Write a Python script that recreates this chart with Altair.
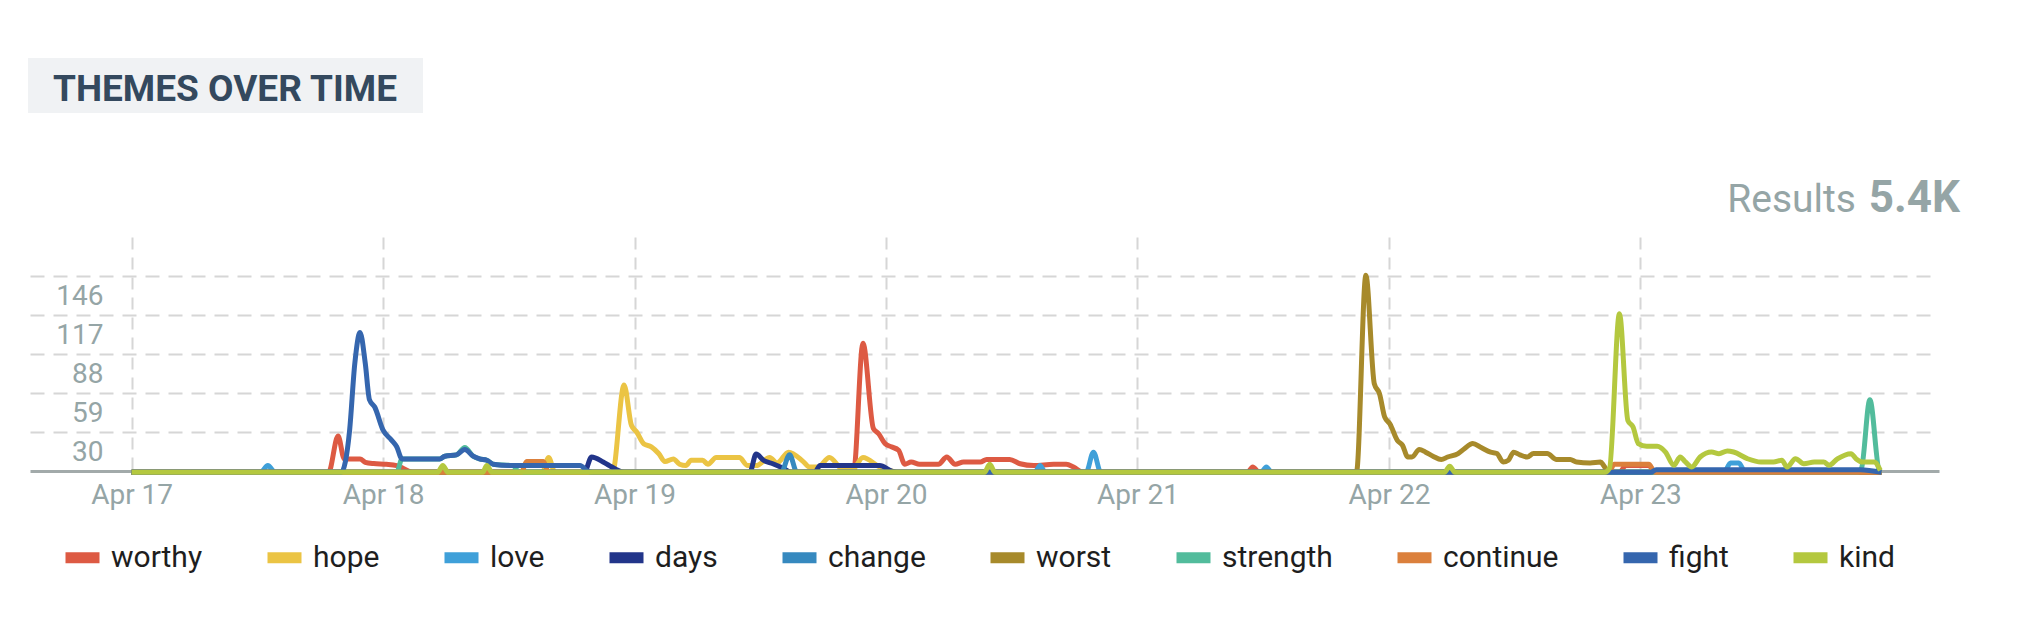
import altair as alt
import pandas as pd

# ---- series names & colours (legend order) ----
series = ["worthy", "hope", "love", "days", "change", "worst",
          "strength", "continue", "fight", "kind"]
colors = ["#dd5a43", "#ebc444", "#3fa0d9", "#22358a", "#3689bf",
          "#a78a2b", "#52bc9c", "#db803c", "#3566ae", "#b4c83f"]

# ---- x positions are hours since Apr 17 00:00 ----
worthy_h = [0, 18.8, 19.7, 20.3, 21.8, 22.3, 23.1, 24.3, 25.3, 25.9, 26.8,
            68.9, 69.8, 70.8, 71.3, 71.9, 72.5, 73.2, 73.8, 74.4, 75.2,
            77.0, 77.8, 78.6, 79.4, 81.0, 81.6, 83.8, 84.8, 86.1, 88.0,
            89.2, 89.9, 90.8, 106.5, 107.0, 107.6, 142.0, 142.6, 144.8, 145.4, 167]
worthy_v = [0, 0, 27, 10, 10, 7.5, 6.5, 6, 5, 3, 0,
            0, 96, 32.5, 28.7, 21.4, 19, 16.4, 6, 7.7, 6,
            6, 11.4, 6, 7.7, 7.7, 9.5, 9.5, 6.4, 5, 6,
            6, 4, 0, 0, 4, 0, 0, 5, 5, 0, 0]

hope_h = [0, 39.2, 39.8, 40.4, 45.9, 47.0, 47.7, 48.2, 48.9, 49.6,
          50.3, 50.9, 51.7, 52.3, 52.9, 53.4, 54.5, 55.0, 55.8, 58.0,
          58.8, 59.6, 60.9, 61.6, 62.7, 64.1, 64.7, 65.5, 66.6, 67.9,
          68.8, 69.8, 71.4, 72.5, 73.2, 167]
hope_v = [0, 0, 11, 0, 0, 65, 35, 30, 21, 19,
          14, 8, 10, 6, 5, 9, 9, 6, 11, 11,
          5, 5, 11, 7, 15, 8, 4, 4, 11, 2,
          2, 11, 4, 1, 0, 0]

love_h = [0, 12.3, 13.0, 13.7, 86.2, 86.7, 87.2, 91.1, 91.8, 92.5,
          107.8, 108.3, 108.8, 152.0, 152.6, 153.4, 154.0, 167]
love_v = [0, 0, 5, 0, 0, 5, 0, 0, 15, 0,
          0, 4, 0, 0, 7, 7, 0, 0]

days_h = [0, 43.2, 43.9, 45.0, 45.6, 46.3, 47.0, 59.0, 59.6, 60.3,
          61.2, 62.2, 63.0, 65.2, 65.7, 67.6, 68.2, 71.4, 72.5, 73.0, 167]
days_v = [0, 0, 11.4, 7.7, 5, 2, 0, 0, 13.6, 9,
          6.4, 3, 0, 0, 5, 5, 5, 5, 1, 0, 0]

change_h = [0, 62.0, 62.8, 63.5, 167]
change_v = [0, 0, 13, 0, 0]

worst_h = [0, 116.9, 117.8, 118.6, 119.1, 119.6, 120.1, 120.8, 121.3, 121.8,
           122.2, 122.9, 123.5, 124.2, 125.0, 125.6, 126.6, 127.2, 128.0, 128.8,
           129.7, 130.3, 130.9, 131.4, 131.9, 132.5, 133.2, 133.8, 135.1, 136.0,
           137.3, 137.9, 139.2, 140.2, 140.5, 141.0, 167]
worst_v = [0, 0, 146.5, 66, 58.5, 41, 36, 23.8, 20, 11.4,
           11.4, 17, 15, 12, 9.5, 11.4, 14, 17.6, 21.4, 18.4,
           15, 14, 7.7, 9, 15, 13, 11.4, 14, 14, 9.5,
           9.5, 7.7, 7, 7.7, 5, 0, 0]

strength_h = [0, 25.3, 25.8, 29.4, 29.9, 31.0, 31.8, 32.6, 33.2, 33.9,
              34.5, 36.4, 37.0, 164.7, 165.1, 165.9, 166.8, 167]
strength_v = [0, 0, 10, 10, 12, 13, 18.5, 12, 10, 9,
              6, 5, 0, 0, 3, 54, 1, 0]

continue_h = [0, 37.2, 37.7, 39.3, 39.8, 141.0, 141.5, 144.8, 145.4, 167]
continue_v = [0, 0, 8, 8, 0, 0, 6, 6, 0, 0]

fight_h = [0, 20.0, 20.8, 21.3, 21.8, 22.3, 22.7, 23.2, 24.0, 24.8,
           25.3, 25.8, 29.4, 29.9, 31.0, 31.8, 32.6, 33.2, 33.9, 34.5,
           36.4, 42.8, 43.5, 44.0, 145.0, 145.5, 165.0, 167]
fight_v = [0, 0, 31, 81, 104, 81, 54, 48.6, 31.4, 24,
           19, 10, 10, 12, 13, 17, 12, 10, 9, 6,
           5, 5, 1, 0, 0, 2, 2, 0]

kind_h = [0, 29.2, 29.7, 30.2, 33.5, 33.9, 34.4, 81.4, 81.9, 82.4,
          125.3, 125.8, 126.3, 140.6, 141.05, 142.0, 142.8, 143.3, 143.8, 144.6,
          145.6, 146.4, 147.2, 147.8, 148.3, 148.9, 149.7, 150.8, 151.5, 152.3,
          152.9, 154.2, 155.5, 156.7, 157.5, 158.0, 158.8, 159.6, 160.6, 161.5,
          162.0, 162.8, 164.1, 164.6, 165.2, 166.3, 166.9]
kind_v = [0, 0, 5, 0, 0, 5, 0, 0, 6, 0,
          0, 4.5, 0, 0, 3, 118, 38.7, 33.7, 21.4, 19.4,
          19.4, 15.1, 5.2, 11.4, 7.7, 4, 11.4, 15.1, 13.9, 15.9,
          15.1, 10.2, 7.7, 7.7, 9, 4, 10.2, 6.4, 7.7, 7.7,
          5.2, 10, 13.9, 10, 7.7, 7.7, 1.5]

day_ticks = [0, 24, 48, 72, 96, 120, 144]
y_ticks = [30, 59, 88, 117, 146]

title_text = "THEMES OVER TIME"
results_label = "Results"
results_value = "5.4K"

# ---- build long table ----
pairs = {
    "worthy": (worthy_h, worthy_v), "hope": (hope_h, hope_v),
    "love": (love_h, love_v), "days": (days_h, days_v),
    "change": (change_h, change_v), "worst": (worst_h, worst_v),
    "strength": (strength_h, strength_v), "continue": (continue_h, continue_v),
    "fight": (fight_h, fight_v), "kind": (kind_h, kind_v),
}
rows = []
for s in series:
    hs, vs = pairs[s]
    assert len(hs) == len(vs), s
    for h, v in zip(hs, vs):
        rows.append({"theme": s, "hour": h, "count": v})
df = pd.DataFrame(rows)

GRAY = "#95a5a6"

lines = alt.Chart(df).mark_line(strokeWidth=5, interpolate="monotone",
                                strokeJoin="round").encode(
    x=alt.X("hour:Q",
            scale=alt.Scale(domain=[-9.7, 172.5], nice=False, zero=False),
            axis=alt.Axis(values=day_ticks, title=None,
                          labelExpr="'Apr ' + (17 + datum.value / 24)",
                          grid=True, gridDash=[12, 8], gridColor="#d6d6d6",
                          gridWidth=2, ticks=False, domain=True,
                          domainColor="#a2aaaa", domainWidth=3,
                          labelFontSize=28, labelColor=GRAY, labelFont="Roboto",
                          labelPadding=10)),
    y=alt.Y("count:Q",
            scale=alt.Scale(domain=[1, 175], nice=False, zero=False),
            axis=alt.Axis(values=y_ticks, title=None, grid=True,
                          gridDash=[14, 9], gridColor="#d6d6d6", gridWidth=2,
                          domain=False, ticks=False, labelAlign="right",
                          labelPadding=-73, labelBaseline="alphabetic",
                          labelOffset=28, labelFontSize=28, labelColor=GRAY,
                          labelFont="Roboto")),
    color=alt.Color("theme:N",
                    scale=alt.Scale(domain=series, range=colors),
                    sort=series,
                    legend=alt.Legend(title=None, orient="none",
                                      legendX=30, legendY=298,
                                      direction="horizontal",
                                      symbolType="stroke", symbolSize=1156,
                                      symbolStrokeWidth=11,
                                      labelFontSize=30, labelFont="Roboto",
                                      labelColor="#1e1e1e", labelOffset=6,
                                      columnPadding=42, padding=0,
                                      labelLimit=400)),
)

tdf = pd.DataFrame({"t": [title_text]})
title_bg = alt.Chart(tdf).mark_rect(color="#f0f2f4").encode(
    x=alt.value(-2), x2=alt.value(393), y=alt.value(-179), y2=alt.value(-124))
title_txt = alt.Chart(tdf).mark_text(
    align="left", baseline="alphabetic", font="Roboto", fontWeight="bold",
    fontSize=37, color="#34495e").encode(
    x=alt.value(23), y=alt.value(-136), text="t:N")

rdf = pd.DataFrame({"a": [results_label], "b": [results_value]})
res_lbl = alt.Chart(rdf).mark_text(
    align="right", baseline="alphabetic", font="Roboto", fontSize=39,
    color=GRAY).encode(x=alt.value(1826), y=alt.value(-25), text="a:N")
res_val = alt.Chart(rdf).mark_text(
    align="right", baseline="alphabetic", font="Roboto",
    fontWeight="bold", fontSize=44, color=GRAY).encode(
    x=alt.value(1930), y=alt.value(-25), text="b:N")

chart = alt.layer(lines, title_bg, title_txt, res_lbl, res_val).properties(
    width=1909, height=234,
    autosize=alt.AutoSizeParams(type="none"),
    padding={"left": 22, "top": 229, "right": 60, "bottom": 120},
).configure(font="Roboto").configure_view(strokeWidth=0, stroke="transparent")

chart.save("out.html", embed_options={"renderer": "svg", "actions": False})
